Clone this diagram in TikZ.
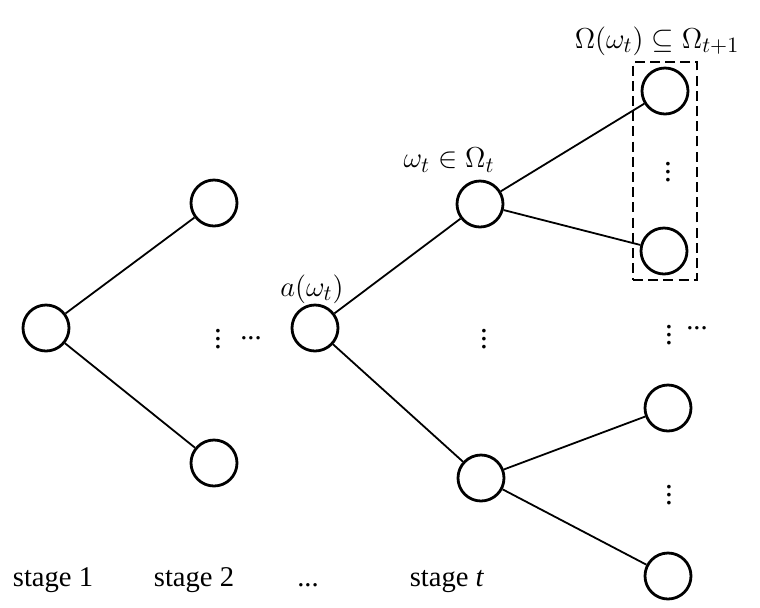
\documentclass[tikz,border=0pt]{standalone}
\usepackage{amsmath,amssymb}
\usepackage{fontspec}
\setmainfont{Liberation Serif}
\usetikzlibrary{positioning}

\begin{document}
\begin{tikzpicture}[
  x=0.5pt, y=-0.5pt,
  state/.style={draw, circle, line width=1.4pt, minimum size=23pt, inner sep=0pt},
  edge/.style={line width=0.9pt},
  lbl/.style={font=\fontsize{15.5}{18}\selectfont, inner sep=0pt},
  stg/.style={font=\fontsize{14.3}{17}\selectfont, inner sep=0pt}
]
\useasboundingbox (0,0) rectangle (760,607);

% stage 1 and 2
\node[state] (root) at (46,328) {};
\node[state] (s2up) at (214,203) {};
\node[state] (s2dn) at (214,463) {};
% stage t-1 and t
\node[state] (anc) at (315,328) {};
\node[state] (wt) at (480,204) {};
\node[state] (wtdn) at (481,478) {};
% stage t+1
\node[state] (c1) at (665,91) {};
\node[state] (c2) at (664,251) {};
\node[state] (c3) at (668,408) {};
\node[state] (c4) at (668,576) {};

\foreach \a/\b in {root/s2up, root/s2dn, anc/wt, anc/wtdn, wt/c1, wt/c2, wtdn/c3, wtdn/c4}
  \draw[edge] (\a) -- (\b);

% children set
\node[draw, line width=1.4pt, dash pattern=on 5pt off 2.6pt, minimum width=32pt, minimum height=109pt, inner sep=0pt] (cset) at (665,171) {};

% dots
\node[lbl] (v2) at (218,333) {$\vdots$};
\node[stg, anchor=base] (h2) at (251,339) {...};
\node[lbl] (vt) at (484,333) {$\vdots$};
\node[lbl] (vc1) at (668,166) {$\vdots$};
\node[lbl] (vc2) at (669,329) {$\vdots$};
\node[stg, anchor=base] (hc2) at (697,329) {...};
\node[lbl] (vc3) at (669,489) {$\vdots$};

% labels
\node[lbl] (lanc) at (312,289) {$a(\omega_t)$};
\node[lbl] (lwt) at (449,160) {$\omega_t \in \Omega_t$};
\node[lbl] (lset) at (657,41) {$\Omega(\omega_t) \subseteq \Omega_{t+1}$};

\node[stg, anchor=base] (st1) at (53,586) {stage 1};
\node[stg, anchor=base] (st2) at (194,586) {stage 2};
\node[stg, anchor=base] (stdots) at (308,586) {...};
\node[stg, anchor=base] (stt) at (447,586) {stage \textit{t}};
\end{tikzpicture}
\end{document}
